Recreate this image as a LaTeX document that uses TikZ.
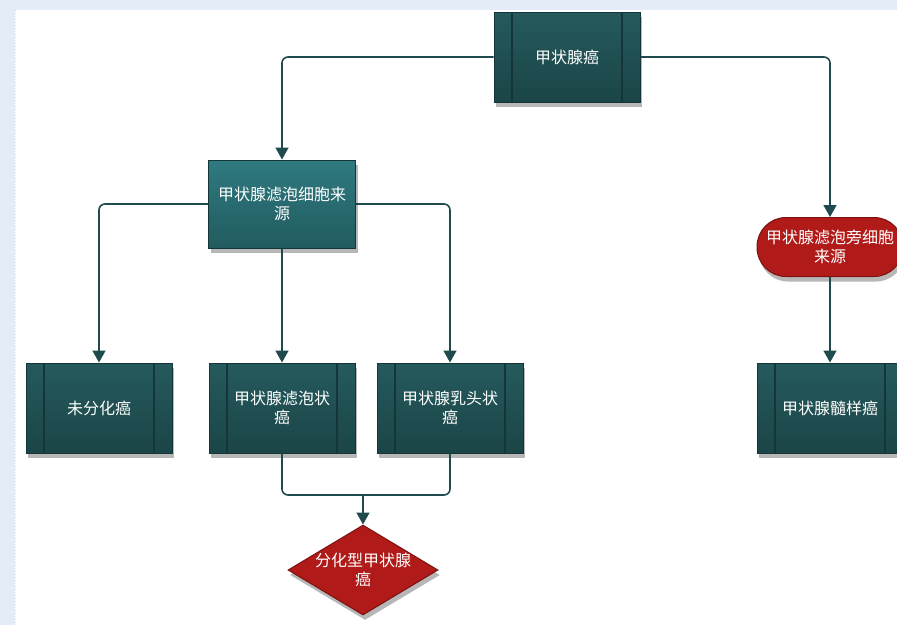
\documentclass[tikz,border=0pt]{standalone}
\usepackage{fontspec}
\setmainfont{Noto Sans CJK SC}
\usetikzlibrary{arrows.meta,shapes,shadows}
\tikzset{>={Triangle[width=13pt,length=12pt]}}
\definecolor{tealtop}{HTML}{255A5D}
\definecolor{tealbot}{HTML}{1B4547}
\definecolor{tealltop}{HTML}{2F7A80}
\definecolor{teallbot}{HTML}{215B5F}
\definecolor{tealedge}{HTML}{143638}
\definecolor{connline}{HTML}{1F4B4E}
\definecolor{redfill}{HTML}{B01A18}
\definecolor{pageblue}{HTML}{E4ECF7}
\tikzset{
  boxbase/.style={draw=tealedge, line width=1pt, text=white, align=center,
    font=\fontsize{16}{19}\selectfont,
    drop shadow={shadow xshift=2pt, shadow yshift=-5pt, opacity=0.4, fill=black!70}},
  procbox/.style={boxbase, rectangle, minimum width=146pt, minimum height=90pt,
    top color=tealtop, bottom color=tealbot,
    path picture={
      \draw[tealedge, line width=1.2pt]
        ([xshift=18pt]path picture bounding box.north west) --
        ([xshift=18pt]path picture bounding box.south west);
      \draw[tealedge, line width=1.2pt]
        ([xshift=-18pt]path picture bounding box.north east) --
        ([xshift=-18pt]path picture bounding box.south east);}},
  sourcebox/.style={boxbase, rectangle, minimum width=147pt, minimum height=88pt,
    top color=tealltop, bottom color=teallbot},
  redpill/.style={boxbase, draw=redfill!70!black, fill=redfill, rectangle,
    rounded corners=29pt, minimum width=146pt, minimum height=59pt},
  decision/.style={boxbase, draw=redfill!70!black, fill=redfill, diamond,
    minimum width=150pt, minimum height=90pt, inner sep=0pt},
  celltext/.style={text=white, align=center, font=\fontsize{16}{19}\selectfont},
  conn/.style={draw=connline, line width=1.6pt, rounded corners=6pt},
}

\begin{document}
\begin{tikzpicture}[x=1pt, y=-1pt]
  \useasboundingbox (0,0) rectangle (897,625);
  \clip (0,0) rectangle (897,625);

  %% page
  \fill[pageblue] (0,0) rectangle (897,625);
  \fill[white] (15,10) rectangle (897,625);
  \draw[gray!25, dotted, line width=1pt] (15,10) -- (15,625);

  %% nodes
  \node[procbox] (thyroid) at (567,57) {甲状腺癌};
  \node[sourcebox] (follicular) at (282,204) {甲状腺滤泡细胞来\\源};
  \node[redpill] (para) at (830,247) {甲状腺滤泡旁细胞\\来源};

  \node[procbox] (undiff) at (99,408) {未分化癌};
  \node[procbox] (folcancer) at (282,408) {甲状腺滤泡状\\癌};
  \node[procbox] (papillary) at (450,408) {甲状腺乳头状\\癌};
  \node[procbox] (medullary) at (830,408) {甲状腺髓样癌};

  \node[decision] (dtc) at (363,570) {};
  \node[celltext] (dtclabel) at (dtc) {分化型甲状腺\\癌};

  %% connectors
  \draw[conn, ->] (thyroid.west) -| (follicular.north);
  \draw[conn, ->] (thyroid.east) -| (para.north);

  \draw[conn, ->] (follicular.west) -| (undiff.north);
  \draw[conn, ->] (follicular.south) -- (folcancer.north);
  \draw[conn, ->] (follicular.east) -| (papillary.north);

  \draw[conn, ->] (para.south) -- (medullary.north);

  %% merge into dtc
  \coordinate (merge) at (363,495);
  \draw[conn] (folcancer.south) |- (merge);
  \draw[conn] (papillary.south) |- (merge);
  \draw[conn, ->] (merge) -- (dtc.north);

\end{tikzpicture}
\end{document}
